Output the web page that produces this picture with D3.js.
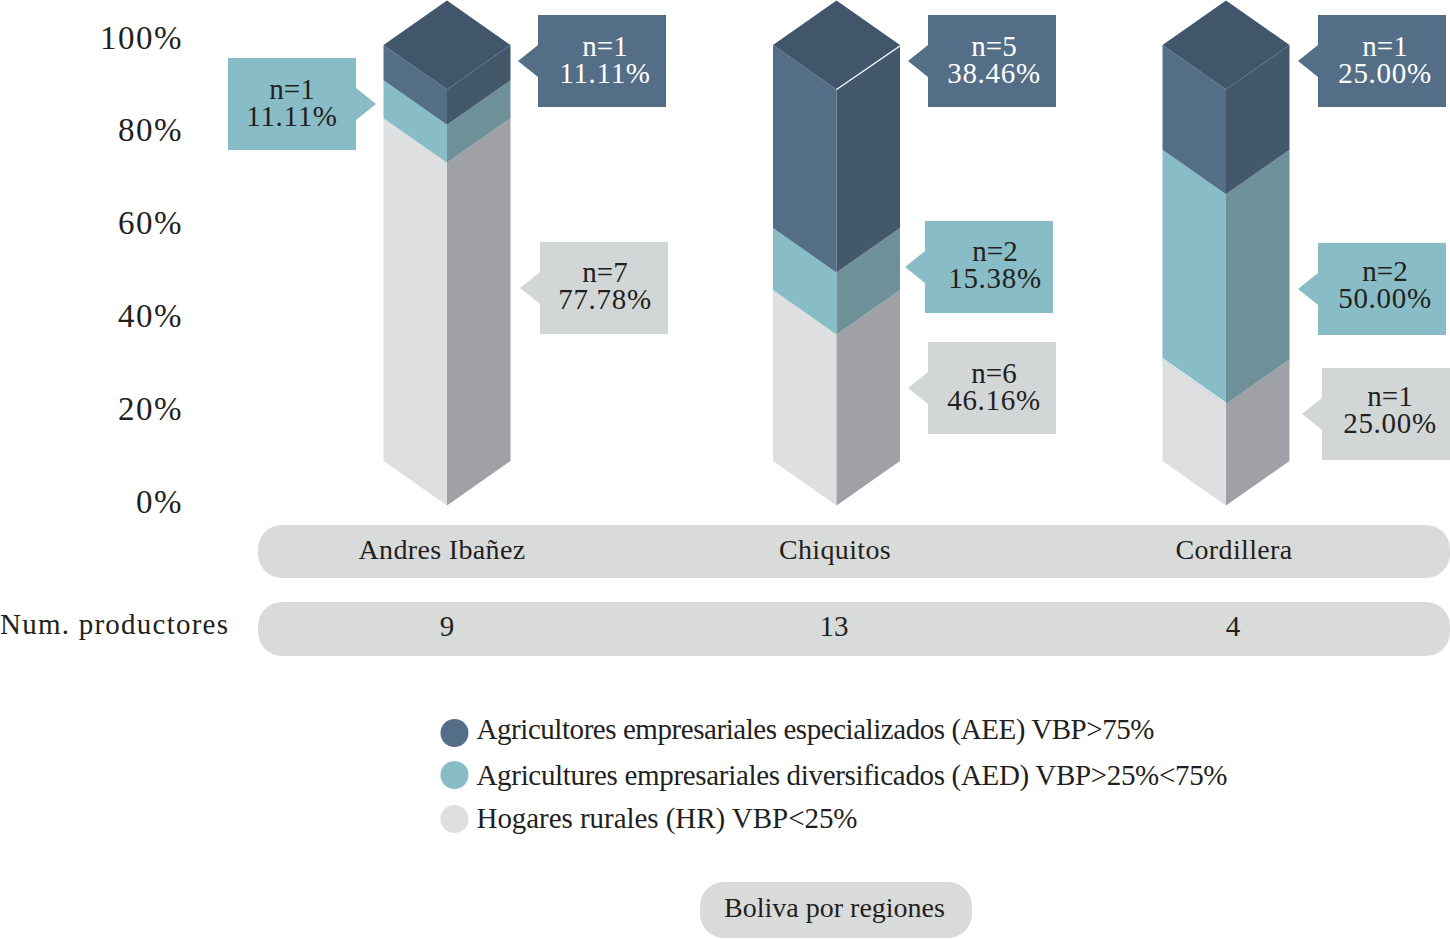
<!DOCTYPE html>
<html>
<head>
<meta charset="utf-8">
<script src="https://cdn.jsdelivr.net/npm/d3@7"></script>
<style>
  html, body { margin: 0; padding: 0; background: #fff; }
  svg { display: block; }
  text { font-family: "Liberation Serif", serif; fill: #231f20; }
</style>
</head>
<body>
<div id="chart"></div>
<script>
const width = 1450;
const height = 939;

// Data, heights (they differ a bit from the printed shares)
const regions = ["Andres Ibañez", "Chiquitos", "Cordillera"];
const producers = [9, 13, 4];
const groups = ["hr", "aed", "aee"];
const hrHeight = [82.4, 41.1, 24.4];
const aedHeight = [9.1, 14.9, 50.4];
const aeeHeight = [8.5, 44, 25.2];
const hrCount = [7, 6, 1];
const aedCount = [1, 2, 2];
const aeeCount = [1, 5, 1];
const hrShare = [77.78, 46.16, 25];
const aedShare = [11.11, 15.38, 50];
const aeeShare = [11.11, 38.46, 25];
const yTicks = [0, 20, 40, 60, 80, 100];
const legendLabels = [
    "Agricultores empresariales especializados (AEE) VBP>75%",
    "Agricultures empresariales diversificados (AED) VBP>25%<75%",
    "Hogares rurales (HR) VBP<25%"
];
const footerLabel = "Boliva por regiones";
const rowLabel = "Num. productores";

// Colours per group: left face, right face, callout, callout text
const leftColor = { aee: "#546e87", aed: "#88bdc7", hr: "#dddfe1" };
const rightColor = { aee: "#44586c", aed: "#6d9099", hr: "#9fa1a6" };
const calloutColor = { aee: "#546e87", aed: "#88bdc7", hr: "#d3d6d7" };
const calloutText = { aee: "#ffffff", aed: "#231f20", hr: "#231f20" };
const topColor = "#41566a";

const rows = regions.map((r, i) => ({
    region: r,
    hr: hrHeight[i],
    aed: aedHeight[i],
    aee: aeeHeight[i],
    count: { hr: hrCount[i], aed: aedCount[i], aee: aeeCount[i] },
    share: { hr: hrShare[i], aed: aedShare[i], aee: aeeShare[i] }
}));

const svg = d3.select("#chart").append("svg")
    .attr("width", width)
    .attr("height", height);

// Scales
const x = d3.scalePoint().domain(regions).range([447, 1226]);
const y = d3.scaleLinear().domain([0, 100]).range([461, 45]);
const yLabel = d3.scaleLinear().domain([0, 100]).range([512, 48]);
const halfW = 63.5;
const depth = 44.5;

// Axis labels, right aligned, no line (the original has none)
const yAxis = d3.axisLeft(yLabel)
    .tickValues(yTicks)
    .tickSize(0)
    .tickPadding(0)
    .tickFormat(d => d + "%");
const axisG = svg.append("g")
    .attr("transform", "translate(183,0)")
    .call(yAxis);
axisG.select(".domain").remove();
axisG.selectAll("text")
    .attr("dy", 0)
    .attr("font-size", 33)
    .attr("letter-spacing", 1.5)
    .style("font-family", '"Liberation Serif", serif');

// Stacked prisms
const series = d3.stack().keys(groups)(rows);
const poly = pts => pts.map(p => p.join(",")).join(" ");

series.forEach(s => {
    const g = svg.append("g");
    g.selectAll("polygon.left")
        .data(s)
        .enter().append("polygon")
        .attr("class", "left")
        .attr("fill", leftColor[s.key])
        .attr("points", d => {
            const cx = x(d.data.region);
            return poly([
                [cx - halfW, y(d[0])], [cx - halfW, y(d[1])],
                [cx, y(d[1]) + depth], [cx, y(d[0]) + depth]
            ]);
        });
    g.selectAll("polygon.right")
        .data(s)
        .enter().append("polygon")
        .attr("class", "right")
        .attr("fill", rightColor[s.key])
        .attr("points", d => {
            const cx = x(d.data.region);
            return poly([
                [cx + halfW, y(d[0])], [cx + halfW, y(d[1])],
                [cx, y(d[1]) + depth], [cx, y(d[0]) + depth]
            ]);
        });
});

// Top of each prism
svg.append("g").selectAll("polygon")
    .data(regions)
    .enter().append("polygon")
    .attr("fill", topColor)
    .attr("points", d => {
        const cx = x(d);
        return poly([
            [cx - halfW, y(100)], [cx, y(100) - depth],
            [cx + halfW, y(100)], [cx, y(100) + depth]
        ]);
    });

// Two thin white seams that show in the original
const topEdgeChiquitos = x("Chiquitos");
svg.append("line")
    .attr("x1", topEdgeChiquitos).attr("y1", y(100) + depth)
    .attr("x2", topEdgeChiquitos + halfW).attr("y2", y(100) + 1)
    .attr("stroke", "#fff").attr("stroke-width", 1.2);
const seamCordillera = x("Cordillera");
svg.append("line")
    .attr("x1", seamCordillera - halfW).attr("y1", y(hrHeight[2]) - 1)
    .attr("x2", seamCordillera).attr("y2", y(hrHeight[2]) + depth - 1)
    .attr("stroke", "#fff").attr("stroke-width", 1);

// Callout layout, same order as the data: box left, box top, pointer side, text centre, text shift
const calloutBoxes = [
    { aee: [538, 15, "left", 605, 1], aed: [228, 58, "right", 292, 1], hr: [540, 242, "left", 605, 0] },
    { aee: [928, 15, "left", 994, 1], aed: [925, 221, "left", 995, 0], hr: [928, 342, "left", 994, 1] },
    { aee: [1318, 15, "left", 1385, 1], aed: [1318, 243, "left", 1385, -2], hr: [1322, 368, "left", 1390, -2] }
];
const boxW = 128;
const boxH = 92;
const pointer = 20;
const pointerH = 16;

rows.forEach((row, i) => {
    groups.forEach(key => {
        const [bx, by, side, tx, shift] = calloutBoxes[i][key];
        const cy = by + 46;
        const g = svg.append("g");
        const pts = side === "left"
            ? [[bx, by], [bx + boxW, by], [bx + boxW, by + boxH], [bx, by + boxH],
               [bx, cy + pointerH], [bx - pointer, cy], [bx, cy - pointerH]]
            : [[bx, by], [bx + boxW, by], [bx + boxW, cy - pointerH], [bx + boxW + pointer, cy],
               [bx + boxW, cy + pointerH], [bx + boxW, by + boxH], [bx, by + boxH]];
        g.append("polygon").attr("points", poly(pts)).attr("fill", calloutColor[key]);
        const label = g.append("text")
            .attr("y", cy - 6 + shift)
            .attr("text-anchor", "middle")
            .attr("font-size", 29)
            .style("fill", calloutText[key]);
        label.append("tspan")
            .attr("x", tx)
            .text("n=" + row.count[key]);
        label.append("tspan")
            .attr("x", tx)
            .attr("dy", 27)
            .attr("letter-spacing", 0.7)
            .text(d3.format(".2f")(row.share[key]) + "%");
    });
});

// Pills under the chart
const pillColor = "#d9dbda";
svg.append("rect").attr("x", 258).attr("y", 525).attr("width", 1192).attr("height", 53)
    .attr("rx", 24).attr("fill", pillColor);
svg.append("rect").attr("x", 258).attr("y", 602).attr("width", 1192).attr("height", 54)
    .attr("rx", 24).attr("fill", pillColor);

const regionLabelX = [442, 835, 1234];
svg.append("g").selectAll("text")
    .data(regions)
    .enter().append("text")
    .attr("x", (d, i) => regionLabelX[i])
    .attr("y", 559)
    .attr("text-anchor", "middle")
    .attr("font-size", 28)
    .attr("letter-spacing", 0.35)
    .text(d => d);

const countLabelX = [447, 834, 1233];
svg.append("g").selectAll("text")
    .data(producers)
    .enter().append("text")
    .attr("x", (d, i) => countLabelX[i])
    .attr("y", 636)
    .attr("text-anchor", "middle")
    .attr("font-size", 29)
    .text(d => d);

svg.append("text")
    .attr("x", 0)
    .attr("y", 634)
    .attr("font-size", 29)
    .attr("textLength", 228)
    .attr("lengthAdjust", "spacing")
    .text(rowLabel);

// Legend
const legendColors = [leftColor.aee, leftColor.aed, leftColor.hr];
const legendY = [733, 775, 819];
const legendTextY = [739, 785, 828];
const legendTextW = [678, 751, 381];
const legend = svg.append("g");
legend.selectAll("circle")
    .data(legendLabels)
    .enter().append("circle")
    .attr("cx", 454.5)
    .attr("cy", (d, i) => legendY[i])
    .attr("r", 14)
    .attr("fill", (d, i) => legendColors[i]);
legend.selectAll("text")
    .data(legendLabels)
    .enter().append("text")
    .attr("x", 476.5)
    .attr("y", (d, i) => legendTextY[i])
    .attr("font-size", 29)
    .attr("textLength", (d, i) => legendTextW[i])
    .attr("lengthAdjust", "spacing")
    .text(d => d);

// Footer pill
svg.append("rect").attr("x", 700).attr("y", 882).attr("width", 272).attr("height", 56)
    .attr("rx", 24).attr("fill", pillColor);
svg.append("text")
    .attr("x", 834.5)
    .attr("y", 917)
    .attr("text-anchor", "middle")
    .attr("font-size", 28)
    .text(footerLabel);
</script>
</body>
</html>
